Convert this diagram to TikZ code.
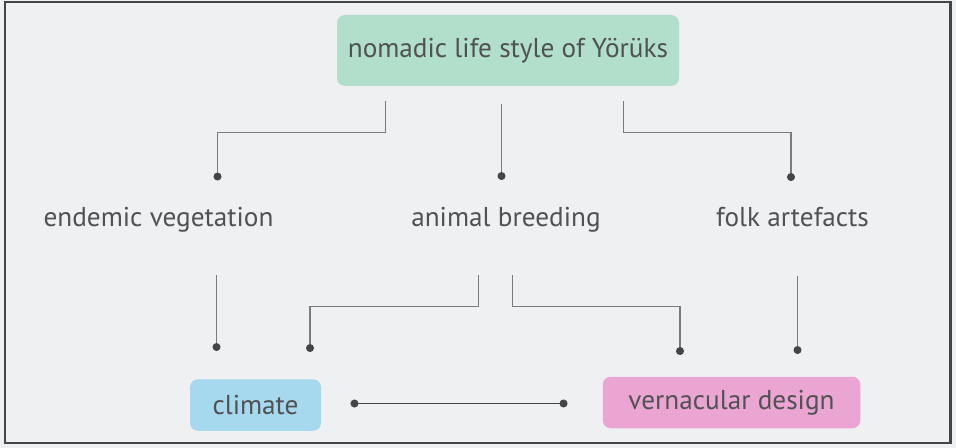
\documentclass[tikz,border=0pt]{standalone}
\usepackage{fontspec}
\setmainfont{PT Sans}
\usetikzlibrary{arrows.meta}
\definecolor{mybg}{HTML}{EFF0F2}
\definecolor{mymint}{HTML}{B2DFCB}
\definecolor{mysky}{HTML}{A6D9EE}
\definecolor{mypink}{HTML}{EBA5D2}
\definecolor{myink}{HTML}{505153}
\definecolor{myline}{HTML}{7A7B7D}
\definecolor{myframe}{HTML}{454545}

\tikzset{
	term/.style={text=myink, font=\fontsize{15.5}{18}\selectfont},
	box/.style={term, rectangle, rounded corners=0.16cm, minimum height=1.03cm},
	mydot/.tip={Circle[length=4.5pt, color=myframe]},
	link/.style={myline, line width=0.85pt, -mydot},
}

\begin{document}
\begin{tikzpicture}
	\fill[mybg] (0,0) rectangle (19.12,-8.96);
	\useasboundingbox (0,0) rectangle (19.12,-8.96);
	\draw[myframe, line width=1.4pt] (0.10,-0.04) rectangle (19.01,-8.86);
	
	\node[box, fill=mymint, minimum width=6.84cm, minimum height=1.42cm] (top) at (10.16,-1.01) {nomadic life style of Yörüks};
	
	\node[term, anchor=base] (veg) at (3.17,-4.53) {endemic vegetation};
	\node[term, anchor=base] (breed) at (10.12,-4.53) {animal breeding};
	\node[term, anchor=base] (folk) at (15.85,-4.53) {folk artefacts};
	
	\node[box, fill=mysky, minimum width=2.62cm] (clim) at (5.11,-8.10) {climate};
	\node[box, fill=mypink, minimum width=5.15cm] (vern) at (14.63,-8.05) {vernacular design};
	
	% from the top box
	\coordinate (t1) at (7.71,-2.03);
	\coordinate (t2) at (10.03,-2.08);
	\coordinate (t3) at (12.47,-2.03);
	\coordinate (v1) at (4.35,-3.61);
	\coordinate (b1) at (10.03,-3.60);
	\coordinate (f1) at (15.82,-3.62);
	\draw[link] (t1) -- (7.71,-2.65) -| (v1);
	\draw[link] (t2) -- (b1);
	\draw[link] (t3) -- (12.47,-2.65) -| (f1);
	
	% from the middle row
	\coordinate (v2) at (4.33,-5.50);
	\coordinate (b2) at (9.57,-5.50);
	\coordinate (b3) at (10.25,-5.50);
	\coordinate (f2) at (15.95,-5.53);
	\coordinate (c1) at (4.33,-7.02);
	\coordinate (c2) at (6.20,-7.04);
	\coordinate (d1) at (13.60,-7.10);
	\coordinate (d2) at (15.95,-7.08);
	\draw[link] (v2) -- (c1);
	\draw[link] (b2) -- (9.57,-6.13) -| (c2);
	\draw[link] (b3) -- (10.25,-6.13) -| (d1);
	\draw[link] (f2) -- (d2);
	
	% climate and design
	\coordinate (c3) at (7.01,-8.07);
	\coordinate (d3) at (11.35,-8.07);
	\draw[myframe, line width=1.1pt, mydot-mydot] (c3) -- (d3);
\end{tikzpicture}
\end{document}
